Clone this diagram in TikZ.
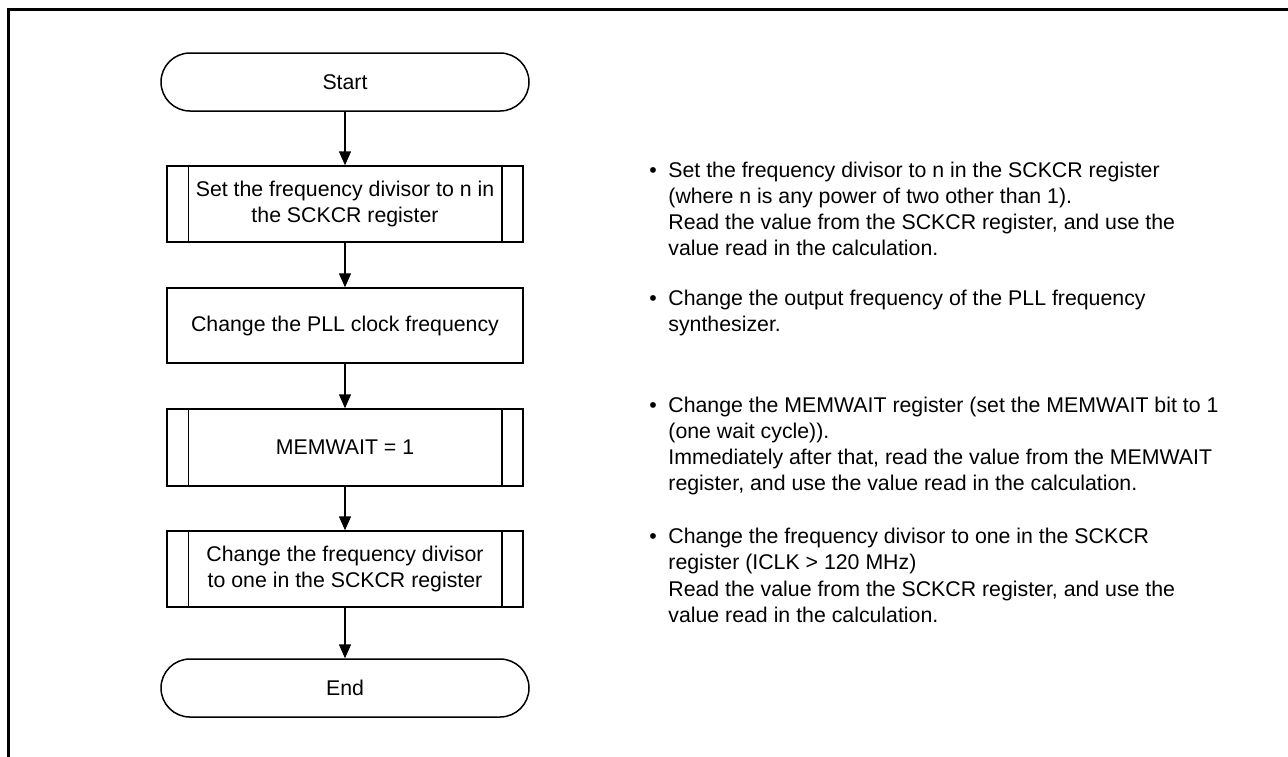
\documentclass[tikz,border=0pt]{standalone}
\usepackage{fontspec}
\setmainfont{Liberation Sans}
\usetikzlibrary{arrows.meta}
\begin{document}
\begin{tikzpicture}[x=0.5pt,y=-0.5pt,
  font=\fontsize{10.65}{13.4}\selectfont,
  flow/.style={line width=0.75pt},
  term/.style={flow,draw,rectangle,rounded corners=14.5pt,minimum width=184pt,minimum height=29pt,inner sep=0pt},
  proc/.style={flow,draw,rectangle,minimum width=178pt,inner sep=0pt,align=center},
  arr/.style={flow,-{Triangle[length=7pt,width=6pt]}},
  line/.style={anchor=base west,inner sep=0pt},
  bul/.style={anchor=base,inner sep=0pt}
]
\useasboundingbox (0,0) rectangle (1288,756);
\clip (0,0) rectangle (1288,756);
\draw[line width=1.5pt] (8.5,9.5) rectangle (1310,780);

\node[term] (start) at (345,82) {Start};
\node[proc,minimum height=38pt] (b1) at (345,204) {Set the frequency divisor to n in\\the SCKCR register};
\node[proc,minimum height=37.5pt] (b2) at (345,325.5) {Change the PLL clock frequency};
\node[proc,minimum height=38.5pt] (b3) at (345,447.5) {MEMWAIT = 1};
\node[proc,minimum height=38pt] (b4) at (345,569) {Change the frequency divisor\\to one in the SCKCR register};
\node[term] (end) at (345,688) {End};

\foreach \b in {b1,b3,b4}{
  \draw[flow] ([xshift=11pt]\b.north west) -- ([xshift=11pt]\b.south west);
  \draw[flow] ([xshift=-11pt]\b.north east) -- ([xshift=-11pt]\b.south east);
}

\draw[arr] (start) -- (b1);
\draw[arr] (b1) -- (b2);
\draw[arr] (b2) -- (b3);
\draw[arr] (b3) -- (b4);
\draw[arr] (b4) -- (end);

% notes
\node[bul] (u1) at (653,177) {•};
\node[line] (p1a) at (668,177) {Set the frequency divisor to n in the SCKCR register};
\node[line] (p1b) at (668,203) {(where n is any power of two other than 1).};
\node[line] (p1c) at (668,229) {Read the value from the SCKCR register, and use the};
\node[line] (p1d) at (668,255) {value read in the calculation.};

\node[bul] (u2) at (653,305) {•};
\node[line] (p2a) at (668,305) {Change the output frequency of the PLL frequency};
\node[line] (p2b) at (668,331) {synthesizer.};

\node[bul] (u3) at (653,412) {•};
\node[line] (p3a) at (668,412) {Change the MEMWAIT register (set the MEMWAIT bit to 1};
\node[line] (p3b) at (668,438) {(one wait cycle)).};
\node[line] (p3c) at (668,464) {Immediately after that, read the value from the MEMWAIT};
\node[line] (p3d) at (668,490) {register, and use the value read in the calculation.};

\node[bul] (u4) at (653,543) {•};
\node[line] (p4a) at (668,543) {Change the frequency divisor to one in the SCKCR};
\node[line] (p4b) at (668,569) {register (ICLK > 120 MHz)};
\node[line] (p4c) at (668,596) {Read the value from the SCKCR register, and use the};
\node[line] (p4d) at (668,622) {value read in the calculation.};
\end{tikzpicture}
\end{document}
